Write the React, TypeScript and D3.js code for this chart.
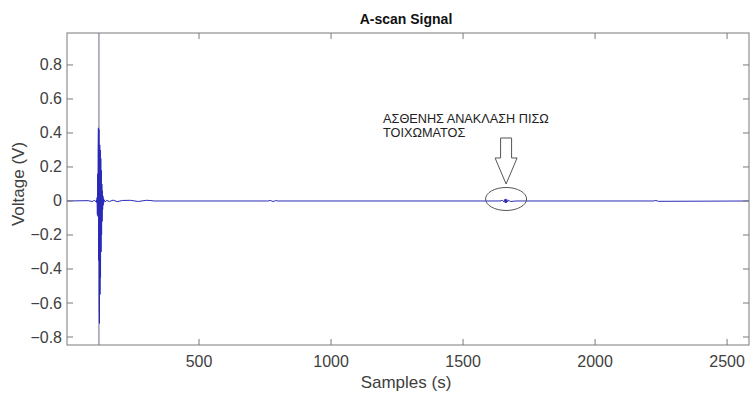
import * as d3 from "d3";

// sample index and amplitude (V) of the A-scan, zero elsewhere
const samples = [
  0, 80, 95, 105, 110, 112, 113, 114, 115, 116, 117, 118, 119, 120, 121, 122, 123, 124, 125,
  126, 127, 128, 129, 130, 131, 132, 133, 134, 135, 136, 137, 138, 139, 140, 145, 150, 160,
  175, 190, 210, 240, 270, 300, 315, 330, 760, 770, 780, 790, 800, 1640, 1650, 1655, 1658,
  1660, 1662, 1664, 1666, 1668, 1672, 1680, 1700, 2220, 2230, 2240, 2585,
];
const voltage = [
  0, 0.002, -0.003, 0.004, -0.006, 0.005, -0.01, 0.02, -0.08, 0.16, -0.09, 0.3, 0.43, -0.35,
  0.42, -0.6, -0.72, 0.33, -0.55, 0.3, -0.45, 0.25, -0.3, 0.18, -0.2, 0.1, -0.12, 0.06, -0.05,
  0.03, -0.025, 0.015, -0.01, 0.008, -0.006, 0.004, -0.003, 0.005, -0.004, 0.003, 0.004,
  -0.003, 0.004, 0.003, 0, 0, 0.003, -0.003, 0.002, 0, 0, 0.004, -0.006, 0.009, -0.012, 0.012,
  -0.01, 0.008, -0.006, 0.004, -0.003, 0, 0, 0.003, -0.002, 0,
];
const markerSample = [121];
const xTicks = [500, 1000, 1500, 2000, 2500];
const yTicks = [-0.8, -0.6, -0.4, -0.2, 0, 0.2, 0.4, 0.6, 0.8];
const noteSample = 1663;
const noteLines = ["ΑΣΘΕΝΗΣ ΑΝΑΚΛΑΣΗ ΠΙΣΩ", "ΤΟΙΧΩΜΑΤΟΣ"];

const W = 750;
const H = 393;
const m = { top: 33, right: 1, bottom: 48, left: 67 };
const iw = W - m.left - m.right;
const ih = H - m.top - m.bottom;
const font = "'Liberation Sans', Arial, sans-serif";
const axisColor = "#7a7a7a";
const textColor = "#404040";

export default function App() {
  const x = d3.scaleLinear().domain([0, 2583]).range([0, iw]);
  const y = d3.scaleLinear().domain([-0.847, 0.988]).range([ih, 0]);
  const pts = samples.map((s, i) => [s, voltage[i]] as [number, number]);
  const line = d3.line<[number, number]>().x((d) => x(d[0])).y((d) => y(d[1]));

  const nx = x(noteSample);
  const ny = y(0);
  const arrow = [
    [nx - 5.5, ny - 63],
    [nx + 5.5, ny - 63],
    [nx + 5.5, ny - 43],
    [nx + 11, ny - 43],
    [nx, ny - 17],
    [nx - 11, ny - 43],
    [nx - 5.5, ny - 43],
  ];

  return (
    <svg
      width={W}
      height={H}
      style={{ position: "absolute", left: 0, top: 0, background: "#fff" }}
    >
      <defs>
        <clipPath id="plot">
          <rect width={iw} height={ih} />
        </clipPath>
      </defs>
      <text x={m.left + iw / 2 - 2} y={24} textAnchor="middle" fontFamily={font} fontWeight="bold" fontSize={14} fill="#111">
        A-scan Signal
      </text>
      <g transform={`translate(${m.left},${m.top})`}>
        <g clipPath="url(#plot)">
          {markerSample.map((s) => (
            <line key={s} x1={x(s)} x2={x(s)} y1={0} y2={ih} stroke="#6a6a8a" strokeWidth={1} />
          ))}
          <path d={line(pts) ?? ""} fill="none" stroke="#2a2ab8" strokeWidth={1} />
        </g>
        <rect width={iw} height={ih} fill="none" stroke={axisColor} strokeWidth={1} />
        {xTicks.map((t) => (
          <g key={t}>
            <line x1={x(t)} x2={x(t)} y1={ih} y2={ih - 6} stroke={axisColor} />
            <line x1={x(t)} x2={x(t)} y1={0} y2={6} stroke={axisColor} />
            <text x={x(t)} y={ih + 22} textAnchor="middle" fontFamily={font} fontSize={16} fill={textColor}>
              {t}
            </text>
          </g>
        ))}
        {yTicks.map((t) => (
          <g key={t}>
            <line x1={0} x2={6} y1={y(t)} y2={y(t)} stroke={axisColor} />
            <line x1={iw} x2={iw - 6} y1={y(t)} y2={y(t)} stroke={axisColor} />
            <text x={-5} y={y(t) + 5.5} textAnchor="end" fontFamily={font} fontSize={16} fill={textColor}>
              {t === 0 ? "0" : d3.format(".1f")(t)}
            </text>
          </g>
        ))}
        <ellipse cx={nx} cy={ny - 2} rx={20.5} ry={11.5} fill="none" stroke="#555" strokeWidth={1} />
        <polygon points={arrow.map((p) => p.join(",")).join(" ")} fill="none" stroke="#555" strokeWidth={1} />
        {noteLines.map((l, i) => (
          <text key={i} x={nx - 123} y={ny - 78 + i * 14} fontFamily={font} fontSize={12.7} fill="#222">
            {l}
          </text>
        ))}
      </g>
      <text x={m.left + iw / 2 - 2} y={388} textAnchor="middle" fontFamily={font} fontSize={17} fill={textColor}>
        Samples (s)
      </text>
      <text
        transform={`translate(24,${184}) rotate(-90)`}
        textAnchor="middle"
        fontFamily={font}
        fontSize={17}
        fill={textColor}
      >
        Voltage (V)
      </text>
    </svg>
  );
}
